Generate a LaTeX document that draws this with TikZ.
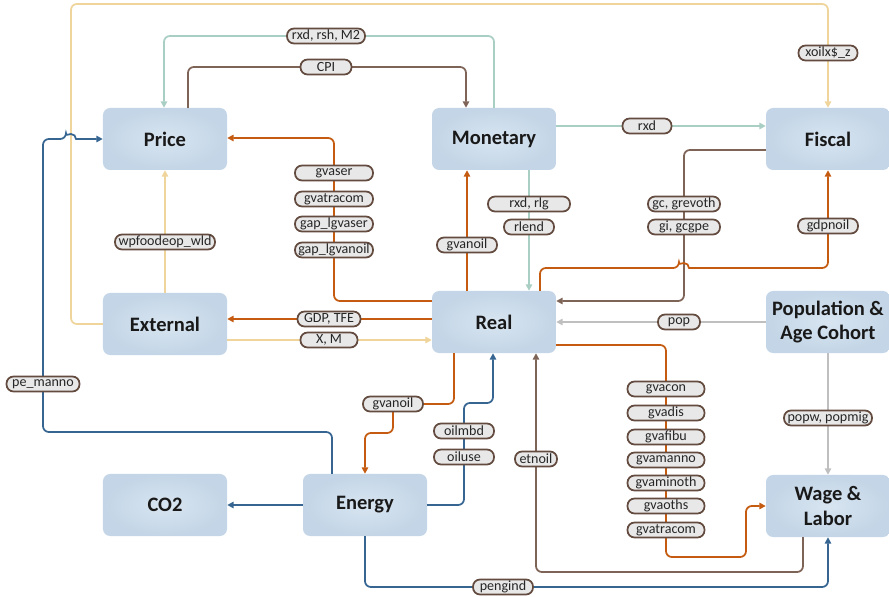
\documentclass[tikz,border=0pt]{standalone}
\usepackage{fontspec}
\setmainfont{Carlito}
\usetikzlibrary{arrows.meta}
\definecolor{boxin}{HTML}{D8E5F1}
\definecolor{boxout}{HTML}{C3D5E6}
\definecolor{ylw}{HTML}{EFD49B}
\definecolor{org}{HTML}{C55A11}
\definecolor{tea}{HTML}{A9CEC3}
\definecolor{brn}{HTML}{7E6357}
\definecolor{gry}{HTML}{BFBFBF}
\definecolor{blu}{HTML}{366592}
\definecolor{pillfill}{HTML}{E8E8E8}
\definecolor{pilldraw}{HTML}{634B40}
\begin{document}
\begin{tikzpicture}[x=0.03cm,y=-0.03cm,
block/.style={rectangle, rounded corners=6pt, inner color=boxin, outer color=boxout, minimum width=3.72cm, minimum height=1.86cm, align=center, font=\fontsize{17.5}{21}\selectfont\bfseries, text=black!90},
pill/.style={rectangle, rounded corners=6pt, draw=pilldraw, fill=pillfill, line width=1.5pt, minimum height=0.45cm, minimum width=#1, inner xsep=2pt, inner ysep=0pt, font=\fontsize{12}{13}\selectfont, text=black!85},
pill/.default=1.5cm,
arrow/.style={-{Triangle[length=5.5pt,width=5.5pt]}, line width=1.5pt, rounded corners=5pt}
]
\useasboundingbox (0,0) rectangle (889,597);
\node[block] (price) at (165,139) {Price};
\node[block] (monetary) at (494,139) {Monetary};
\node[block] (fiscal) at (828,139) {Fiscal};
\node[block] (external) at (165,324) {External};
\node[block] (real) at (494,322) {Real};
\node[block] (popage) at (828,322) {Population \&\\Age Cohort};
\node[block] (co2) at (165,505) {CO2};
\node[block] (energy) at (365,505) {Energy};
\node[block] (wage) at (828,506) {Wage \&\\Labor};
\draw[arrow,ylw] (external.west) -| (71,4) -| (fiscal.north);
\draw[arrow,ylw] (external.north) -- (price.south);
\draw[arrow,ylw] (external.east |- 0,340) -- (real.west |- 0,340);
\draw[arrow,tea] (monetary.south -| 529,0) -- (real.north -| 529,0);
\draw[arrow,tea] (monetary.north) |- (164,36) -- (price.north -| 164,0);
\draw[arrow,tea] (monetary.east |- 0,126) -- (fiscal.west |- 0,126);
\draw[arrow,brn] (price.north -| 188,0) |- (466,67) -- (monetary.north -| 466,0);
\draw[arrow,brn] (fiscal.west |- 0,150) -| (684,301) -- (real.east |- 0,301);
\draw[arrow,brn] (wage.south -| 803,0) |- (536,572) -- (real.south -| 536,0);
\draw[arrow,gry] (popage.west) -- (real.east);
\draw[arrow,gry] (popage.south) -- (wage.north);
\draw[arrow,org] (real.west |- 0,319) -- (external.east |- 0,319);
\draw[arrow,org] (real.west |- 0,301) -| (334,138) -- (price.east |- 0,138);
\draw[arrow,org] (real.north -| 467,0) -- (monetary.south -| 467,0);
\draw[arrow,org] (real.north -| 540,0) |- (679,268) [sharp corners] arc[start angle=180,end angle=360,radius=5] -- (694,268) [rounded corners=5pt] -| (fiscal.south);
\draw[arrow,org] (real.east |- 0,345) -| (666,557) -| (746,506) -- (wage.west |- 0,506);
\draw[arrow,org] (real.south -| 454,0) |- (393,404) |- (365,433) -- (energy.north);
\draw[arrow,blu] (energy.east) -| (464,403) -| (real.south -| 493,0);
\draw[arrow,blu] (energy.north -| 332,0) |- (43,432) -- (43,139) -- (66,139) [sharp corners] arc[start angle=180,end angle=360,radius=5] -- (price.west);
\draw[arrow,blu] (energy.west) -- (co2.east);
\draw[arrow,blu] (energy.south) |- (828,587) -- (wage.south);
\node[pill=2.34cm] (l-rsh) at (326,36) {rxd, rsh, M2};
\node[pill=1.53cm] (l-cpi) at (326,67) {CPI};
\node[pill=1.77cm] (l-xoil) at (828,53) {xoilx\$\_z};
\node[pill=1.47cm] (l-rxd) at (647,126) {rxd};
\node[pill=2.34cm] (l-gvaser) at (334,173) {gvaser};
\node[pill=2.34cm] (l-gvatra) at (334,199) {gvatracom};
\node[pill=2.34cm] (l-gapser) at (334,224) {gap\_lgvaser};
\node[pill=2.34cm] (l-gapoil) at (334,250) {gap\_lgvanoil};
\node[pill=3.0cm] (l-wpfood) at (165,242) {wpfoodeop\_wld};
\node[pill=1.8cm] (l-gvanoil) at (467,245) {gvanoil};
\node[pill=2.46cm] (l-rlg) at (529,204) {rxd, rlg};
\node[pill=1.5cm] (l-rlend) at (529,227) {rlend};
\node[pill=2.16cm] (l-gc) at (684,204) {gc, grevoth};
\node[pill=2.16cm] (l-gi) at (684,227) {gi, gcgpe};
\node[pill=1.8cm] (l-gdp) at (828,226) {gdpnoil};
\node[pill=1.89cm] (l-tfe) at (329,319) {GDP, TFE};
\node[pill=1.71cm] (l-xm) at (329,340) {X, M};
\node[pill=1.26cm] (l-pop) at (679,322) {pop};
\node[pill=2.64cm] (l-popw) at (828,418) {popw, popmig};
\node[pill=2.19cm] (l-pe) at (43,384) {pe\_manno};
\node[pill=1.8cm] (l-gvanoil2) at (393,404) {gvanoil};
\node[pill=1.8cm] (l-oilmbd) at (464,431) {oilmbd};
\node[pill=1.8cm] (l-oiluse) at (464,457) {oiluse};
\node[pill=1.26cm] (l-etnoil) at (536,459) {etnoil};
\node[pill=2.31cm] (l-gvacon) at (666,389) {gvacon};
\node[pill=2.31cm] (l-gvadis) at (666,413) {gvadis};
\node[pill=2.31cm] (l-gvafibu) at (666,437) {gvafibu};
\node[pill=2.31cm] (l-gvamanno) at (666,460) {gvamanno};
\node[pill=2.31cm] (l-gvaminoth) at (666,483) {gvaminoth};
\node[pill=2.31cm] (l-gvaoths) at (666,506) {gvaoths};
\node[pill=2.31cm] (l-gvatracom) at (666,530) {gvatracom};
\node[pill=1.8cm] (l-pengind) at (503,587) {pengind};
\end{tikzpicture}
\end{document}
